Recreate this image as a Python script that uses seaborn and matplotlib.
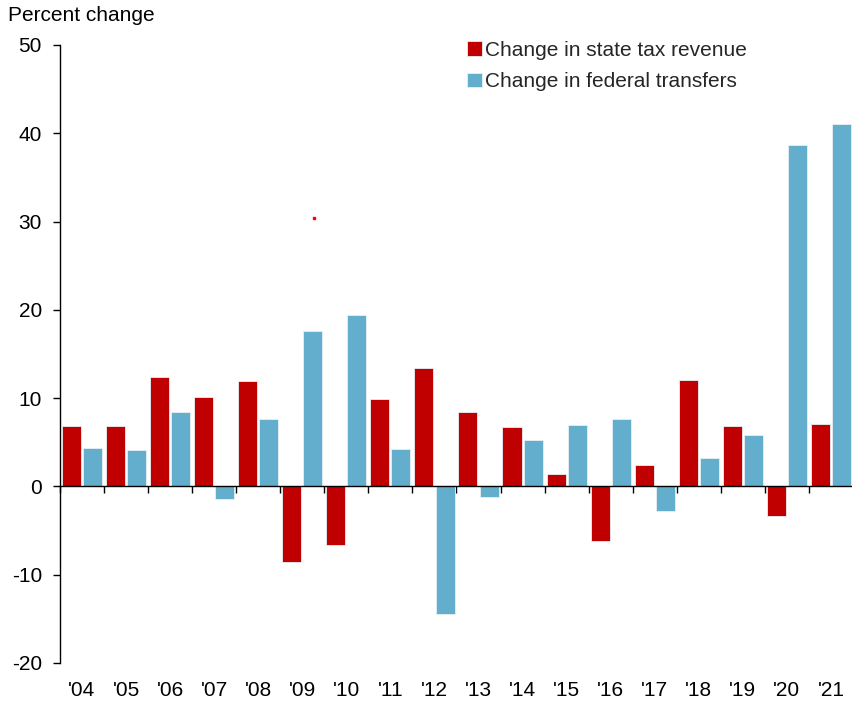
import pandas as pd
import matplotlib.pyplot as plt
import seaborn as sns

# Valores (variação percentual)
anos = ["'04", "'05", "'06", "'07", "'08", "'09", "'10", "'11", "'12",
        "'13", "'14", "'15", "'16", "'17", "'18", "'19", "'20", "'21"]
receita_estadual = [6.8, 6.8, 12.4, 10.1, 11.9, -8.6, -6.6, 9.9, 13.4,
                    8.4, 6.7, 1.4, -6.2, 2.4, 12.0, 6.8, -3.4, 7.1]
transferencias_federais = [4.3, 4.1, 8.4, -1.4, 7.6, 17.6, 19.4, 4.2, -14.4,
                           -1.2, 5.3, 7.0, 7.6, -2.8, 3.2, 5.8, 38.7, 41.0]
series = ['Change in state tax revenue', 'Change in federal transfers']
cores = ['#C00000', '#62AECC']

df = pd.DataFrame({
    'ano': anos * 2,
    'valor': receita_estadual + transferencias_federais,
    'serie': [series[0]] * len(anos) + [series[1]] * len(anos),
})

sns.set_theme(style="white")
plt.rcParams['font.family'] = ['Liberation Sans', 'DejaVu Sans']
plt.rcParams['axes.unicode_minus'] = False

fig = plt.figure(figsize=(8.53, 7.02), dpi=100)
ax = fig.add_axes([0.0703, 0.0556, 0.9297, 0.8803])

sns.barplot(data=df, x='ano', y='valor', hue='serie', order=anos,
            hue_order=series, palette=cores, width=0.96, gap=0.1,
            saturation=1, linewidth=0.6, edgecolor='#e8f0f4',
            ax=ax, legend=True)

# ponto vermelho solto que aparece no original
ax.plot([5.26], [30.35], marker='s', markersize=1.6, color='#FF0000', lw=0)

ax.set_xlim(-0.5, len(anos) - 0.5)
ax.set_ylim(-20, 50)
ax.set_yticks(range(-20, 51, 10))
ax.set_xlabel('')
ax.set_ylabel('')

# eixo x na linha do zero, com marcas entre as categorias
for lado in ['top', 'right']:
    ax.spines[lado].set_visible(False)
ax.spines['bottom'].set_position(('data', 0))
ax.spines['bottom'].set_color('black')
ax.spines['left'].set_color('black')
ax.spines['bottom'].set_linewidth(1.0)
ax.spines['left'].set_linewidth(1.0)

ax.set_xticks([i - 0.5 for i in range(len(anos) + 1)])
ax.set_xticklabels([])
ax.set_xticks(range(len(anos)), minor=True)
ax.set_xticklabels(anos, minor=True)
ax.tick_params(axis='x', which='major', direction='out', length=5,
               width=1, color='black', bottom=True)
ax.tick_params(axis='x', which='minor', length=0, pad=140,
               labelsize=15, labelcolor='black')
ax.tick_params(axis='y', direction='out', length=5, width=1,
               color='black', left=True, labelsize=15, labelcolor='black', pad=8)

ax.legend(loc='upper left', bbox_to_anchor=(0.538, 0.954),
          bbox_transform=fig.transFigure, frameon=False, fontsize=15,
          handlelength=0.7, handleheight=0.7, handletextpad=0.15,
          labelspacing=0.6, borderaxespad=0)

fig.text(0.009, 0.978, 'Percent change', fontsize=15, color='black',
         va='center', ha='left')

plt.savefig('out.png', dpi=100)
plt.close('all')
